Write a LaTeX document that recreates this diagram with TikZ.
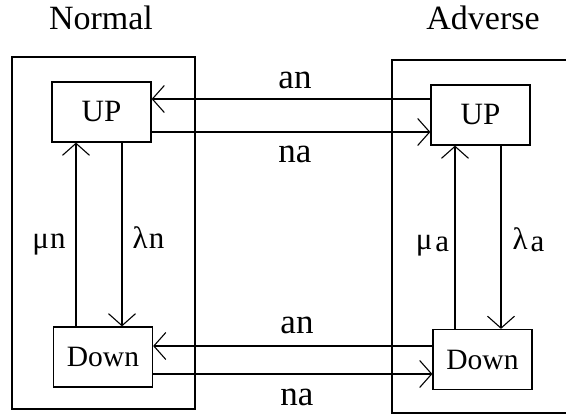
\documentclass[tikz,border=0pt]{standalone}
\usepackage{fontspec}
\setmainfont{Liberation Serif}
\usetikzlibrary{arrows.meta,calc}
\begin{document}
\begin{tikzpicture}[x=1pt,y=-1pt,
  line width=1.2pt,
  state/.style={draw,line width=1.2pt,minimum width=99pt,minimum height=60pt,inner sep=0pt},
  upfont/.style={font=\fontsize{31}{31}\selectfont},
  downfont/.style={font=\fontsize{29.5}{29.5}\selectfont},
  region/.style={draw,line width=1.2pt,inner sep=0pt},
  arr/.style={-{Straight Barb[length=12pt,width=27pt,line width=1.1pt]}},
  title/.style={anchor=base,inner sep=0pt,font=\fontsize{34}{34}\selectfont},
  trans/.style={anchor=base,inner sep=0pt,font=\fontsize{35}{35}\selectfont},
  rate/.style={anchor=base,inner sep=0pt,font=\fontsize{31}{31}\selectfont}]
\useasboundingbox (0,0) rectangle (566,415);

% operating regimes (the adverse one runs on past the right edge)
\node[region,minimum width=183pt,minimum height=352pt] (normal) at (103.5,233) {};
\coordinate (advTL) at (392,60);
\coordinate (advBL) at (392,413);
\draw[line width=1.2pt] (advTL -| 566,0) -- (advTL) -- (advBL) -- (advBL -| 566,0);
\node[title] (tn) at (101,30) {Normal};
\node[title] (ta) at (483,30) {Adverse};

% states
\node[state,upfont]   (lUP)   at (101.5,112) {UP};
\node[state,upfont]   (rUP)   at (480.5,115) {UP};
\node[state,downfont] (lDown) at (103,357)   {Down};
\node[state,downfont] (rDown) at (482.5,359.5) {Down};

% transitions between regimes
\coordinate (a1) at ($(rUP.west)+(0,-16)$);
\coordinate (n1) at ($(lUP.east)+(0,20)$);
\coordinate (a2) at ($(rDown.west)+(0,-13.5)$);
\coordinate (n2) at ($(lDown.east)+(0,17)$);
\draw[arr] (a1) -- (a1 -| lUP.east);
\draw[arr] (n1) -- (n1 -| rUP.west);
\draw[arr] (a2) -- (a2 -| lDown.east);
\draw[arr] (n2) -- (n2 -| rDown.west);
\node[trans] (an1) at (295,88)  {an};
\node[trans] (na1) at (295,162) {na};
\node[trans] (an2) at (297,333) {an};
\node[trans] (na2) at (297,405) {na};

% failures and repairs within each regime
\coordinate (mn) at ($(lDown.north)+(-27,0)$);
\coordinate (ln) at ($(lUP.south)+(20.5,0)$);
\coordinate (ma) at ($(rDown.north)+(-27.5,0)$);
\coordinate (la) at ($(rUP.south)+(20.5,0)$);
\draw[arr] (mn) -- (mn |- lUP.south);
\draw[arr] (ln) -- (ln |- lDown.north);
\draw[arr] (ma) -- (ma |- rUP.south);
\draw[arr] (la) -- (la |- rDown.north);
\node[rate] (mun) at (49,248)    {μ\kern1ptn};
\node[rate] (lan) at (148.5,248) {λ\kern1ptn};
\node[rate] (mua) at (432.5,249) {μ\kern3pt\raisebox{-2pt}{a}};
\node[rate] (laa) at (528.5,249) {λ\kern3pt\raisebox{-2pt}{a}};
\end{tikzpicture}
\end{document}
